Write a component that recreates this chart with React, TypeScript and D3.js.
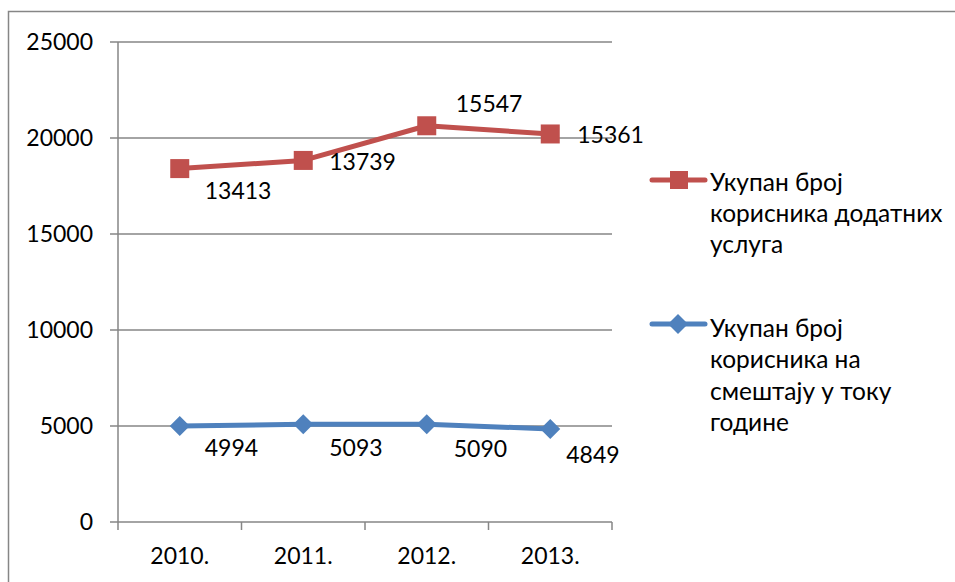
import React from "react";
import * as d3 from "d3";

const categories = ["2010.", "2011.", "2012.", "2013."];
const smestaj = [4994, 5093, 5090, 4849];
const dodatne = [13413, 13739, 15547, 15361];
const yTicks = [0, 5000, 10000, 15000, 20000, 25000];
const legendRed = ["Укупан број", "корисника додатних", "услуга"];
const legendBlue = ["Укупан број", "корисника на", "смештају у току", "године"];

// label offsets (dx, dy) relative to marker, as placed by the original chart
const blueLabelOff = [[25, 22], [26, 24], [27, 24], [16, 26]];
const redLabelOff = [[25, 22], [26, 1], [29, -22], [27, 1]];

const W = 955, H = 582;
const left = 118, right = 612, top = 42, bottom = 522;
const FONT = "Lato, 'Open Sans', sans-serif";
const AXIS = "#868686";
const RED = "#C0504D";
const BLUE = "#4F81BD";

export default function App() {
  const x = d3.scaleBand<string>().domain(categories).range([left, right]);
  const y = d3.scaleLinear().domain([0, 25000]).range([bottom, top]);
  const cx = (c: string) => (x(c) as number) + x.bandwidth() / 2;

  const bluePts = categories.map((c, i) => [cx(c), y(smestaj[i])] as [number, number]);
  const redPts = categories.map((c, i) => [cx(c), y(smestaj[i] + dodatne[i])] as [number, number]);
  const line = d3.line();

  const boundaries = [...categories.map((c) => x(c) as number), right];
  const fs = 23;
  const lfs = 24.5;

  return (
    <svg width={W} height={H} style={{ position: "absolute", left: 0, top: 0, background: "#fff" }} fontFamily={FONT}>
      <path d={`M8.5,${H}V11.5H${W}`} fill="none" stroke={AXIS} strokeWidth={1.5} />
      {yTicks.map((t) => (
        <g key={t}>
          <line x1={left - 8} x2={right} y1={y(t)} y2={y(t)} stroke={AXIS} strokeWidth={1.5} />
          <text x={93} y={y(t)} dy="0.36em" textAnchor="end" fontSize={fs} fill="#000">{t}</text>
        </g>
      ))}
      <line x1={left} x2={left} y1={top} y2={bottom} stroke={AXIS} strokeWidth={1.5} />
      {boundaries.map((b, i) => (
        <line key={i} x1={b} x2={b} y1={bottom} y2={bottom + 8} stroke={AXIS} strokeWidth={1.5} />
      ))}
      {categories.map((c) => (
        <text key={c} x={cx(c)} y={556} dy="0.36em" textAnchor="middle" fontSize={fs} fill="#000">{c}</text>
      ))}

      <path d={line(bluePts) || ""} fill="none" stroke={BLUE} strokeWidth={5} strokeLinejoin="round" />
      {bluePts.map(([px, py], i) => (
        <path key={i} d={`M${px - 10},${py}L${px},${py - 10}L${px + 10},${py}L${px},${py + 10}Z`} fill={BLUE} />
      ))}
      <path d={line(redPts) || ""} fill="none" stroke={RED} strokeWidth={5} strokeLinejoin="round" />
      {redPts.map(([px, py], i) => (
        <rect key={i} x={px - 9.5} y={py - 9.5} width={19} height={19} fill={RED} />
      ))}

      {bluePts.map(([px, py], i) => (
        <text key={i} x={px + blueLabelOff[i][0]} y={py + blueLabelOff[i][1]} dy="0.36em" fontSize={fs} fill="#000">{smestaj[i]}</text>
      ))}
      {redPts.map(([px, py], i) => (
        <text key={i} x={px + redLabelOff[i][0]} y={py + redLabelOff[i][1]} dy="0.36em" fontSize={fs} fill="#000">{dodatne[i]}</text>
      ))}

      <line x1={652} x2={705} y1={180} y2={180} stroke={RED} strokeWidth={5} strokeLinecap="round" />
      <rect x={670} y={171} width={18} height={18} fill={RED} />
      {legendRed.map((t, i) => (
        <text key={i} x={710} y={182 + i * 31} dy="0.36em" fontSize={lfs} fill="#000">{t}</text>
      ))}
      <line x1={652} x2={705} y1={324} y2={324} stroke={BLUE} strokeWidth={5} strokeLinecap="round" />
      <path d="M668,324L678,314L688,324L678,334Z" fill={BLUE} />
      {legendBlue.map((t, i) => (
        <text key={i} x={710} y={328 + i * 31.5} dy="0.36em" fontSize={lfs} fill="#000">{t}</text>
      ))}
    </svg>
  );
}
